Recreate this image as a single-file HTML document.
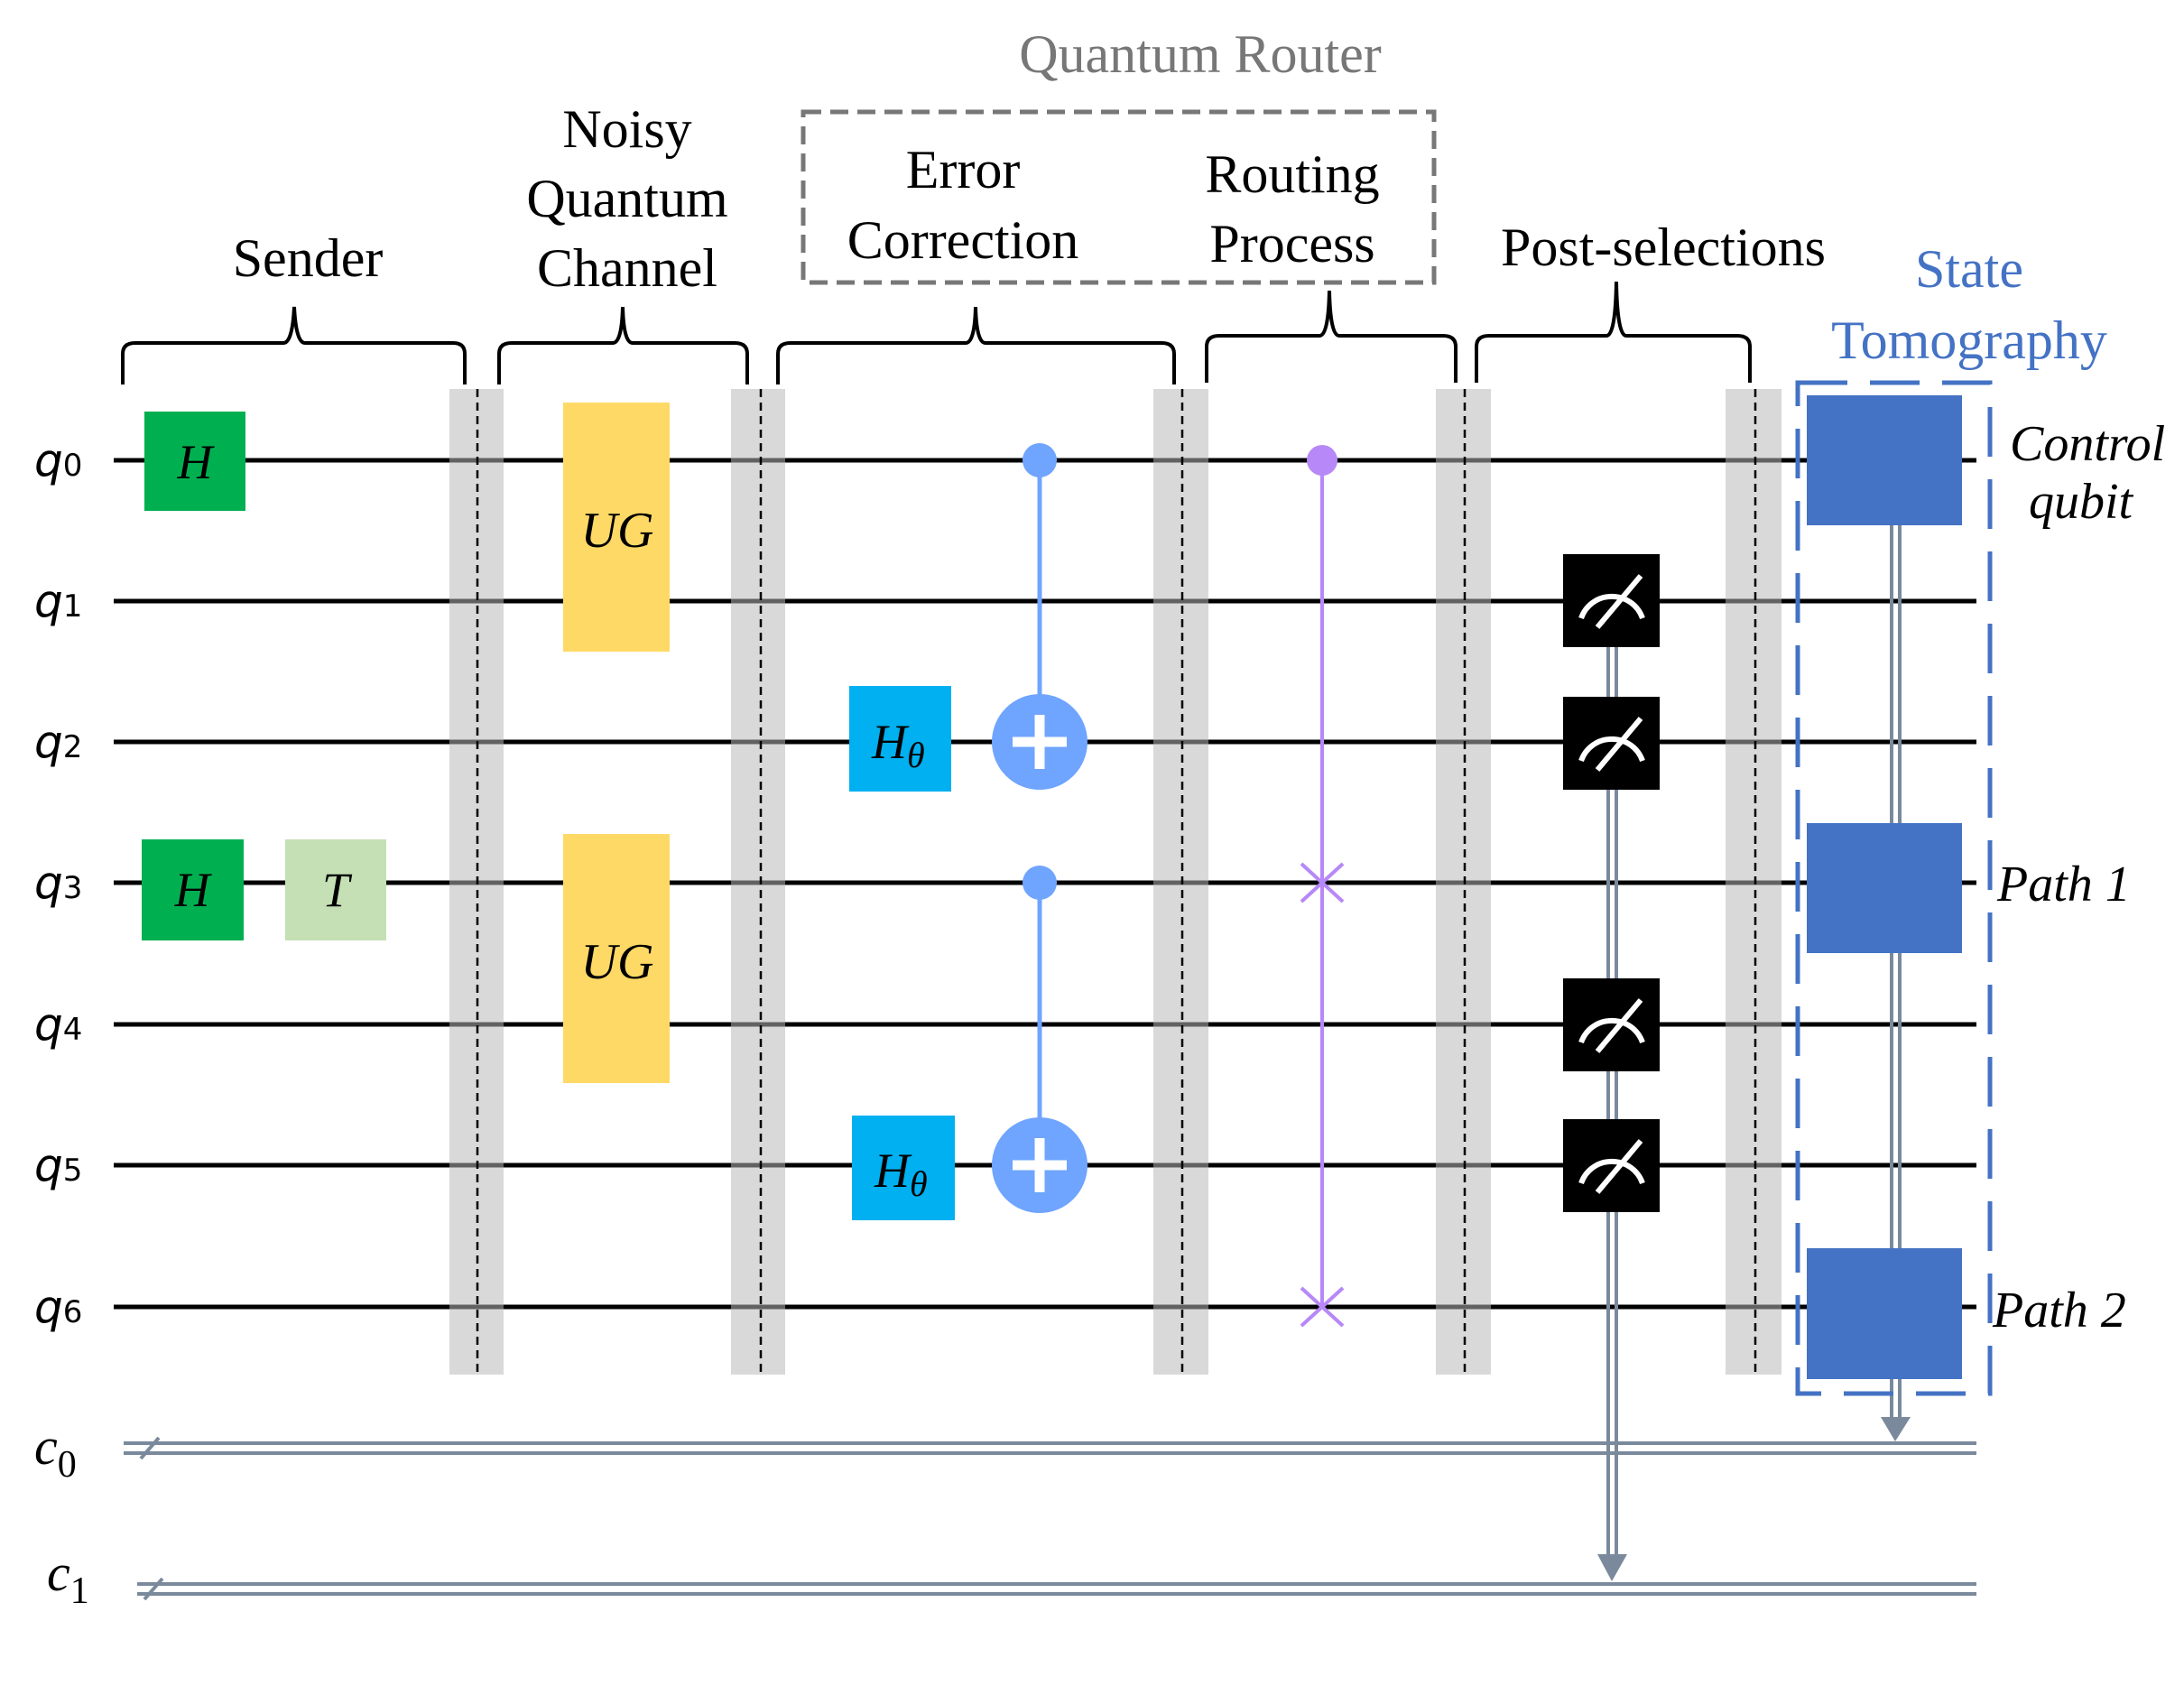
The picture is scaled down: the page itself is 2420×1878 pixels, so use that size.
<!DOCTYPE html>
<html><head><meta charset="utf-8"><style>html,body{margin:0;padding:0;background:#fff}svg{display:block}</style></head>
<body>
<svg width="2420" height="1878" viewBox="0 0 2420 1878" xmlns="http://www.w3.org/2000/svg">
<rect width="2420" height="1878" fill="#fff"/>
<g fill="#d9d9d9">
<rect x="498" y="431" width="60" height="1092"/>
<rect x="810" y="431" width="60" height="1092"/>
<rect x="1278" y="431" width="61" height="1092"/>
<rect x="1591" y="431" width="61" height="1092"/>
<rect x="1912" y="431" width="62" height="1092"/>
</g>
<g stroke="#000" stroke-width="5">
<line x1="126" y1="510" x2="2190" y2="510"/>
<line x1="126" y1="666" x2="2190" y2="666"/>
<line x1="126" y1="822" x2="2190" y2="822"/>
<line x1="126" y1="978" x2="2190" y2="978"/>
<line x1="126" y1="1135" x2="2190" y2="1135"/>
<line x1="126" y1="1291" x2="2190" y2="1291"/>
<line x1="126" y1="1448" x2="2190" y2="1448"/>
</g>
<g fill="#d9d9d9" opacity="0.45">
<rect x="498" y="431" width="60" height="1092"/>
<rect x="810" y="431" width="60" height="1092"/>
<rect x="1278" y="431" width="61" height="1092"/>
<rect x="1591" y="431" width="61" height="1092"/>
<rect x="1912" y="431" width="62" height="1092"/>
</g>
<g stroke="#000" stroke-width="2.5" stroke-dasharray="9,6">
<line x1="529" y1="431" x2="529" y2="1523"/>
<line x1="843" y1="431" x2="843" y2="1523"/>
<line x1="1310" y1="431" x2="1310" y2="1523"/>
<line x1="1623" y1="431" x2="1623" y2="1523"/>
<line x1="1945" y1="431" x2="1945" y2="1523"/>
</g>
<g stroke="#7a8a9c" stroke-width="4">
<line x1="137" y1="1599" x2="2190" y2="1599"/>
<line x1="137" y1="1610" x2="2190" y2="1610"/>
<line x1="152" y1="1755" x2="2190" y2="1755"/>
<line x1="152" y1="1766" x2="2190" y2="1766"/>
<line x1="156" y1="1616" x2="176" y2="1593"/>
<line x1="160" y1="1772" x2="180" y2="1749"/>
<line x1="1782" y1="717" x2="1782" y2="1725"/>
<line x1="1791" y1="717" x2="1791" y2="1725"/>
<line x1="2096" y1="582" x2="2096" y2="1572"/>
<line x1="2105" y1="582" x2="2105" y2="1572"/>
</g>
<polygon points="1770,1722 1803,1722 1786,1752" fill="#7a8a9c"/>
<polygon points="2084,1570 2117,1570 2100,1597" fill="#7a8a9c"/>
<rect x="160" y="456" width="112" height="110" fill="#00b050"/>
<rect x="157" y="930" width="113" height="112" fill="#00b050"/>
<rect x="316" y="930" width="112" height="112" fill="#c5e0b4"/>
<g font-family="Liberation Serif, serif" font-style="italic" font-size="54" text-anchor="middle" fill="#000">
<text x="216" y="530">H</text>
<text x="213" y="1004">H</text>
<text x="372" y="1004">T</text>
</g>
<rect x="624" y="446" width="118" height="276" fill="#ffd966"/>
<rect x="624" y="924" width="118" height="276" fill="#ffd966"/>
<g font-family="Liberation Serif, serif" font-style="italic" font-size="56" text-anchor="middle" fill="#000">
<text x="684" y="606">UG</text>
<text x="684" y="1084">UG</text>
</g>
<rect x="941" y="760" width="113" height="117" fill="#00b0f0"/>
<rect x="944" y="1236" width="114" height="116" fill="#00b0f0"/>
<g font-family="Liberation Serif, serif" font-style="italic" font-size="54" fill="#000">
<text x="966" y="840">H<tspan font-size="40" dy="10">θ</tspan></text>
<text x="969" y="1315">H<tspan font-size="40" dy="10">θ</tspan></text>
</g>
<g stroke="#6fa4ff" stroke-width="5"><line x1="1152" y1="510" x2="1152" y2="800"/><line x1="1152" y1="978" x2="1152" y2="1270"/></g>
<g fill="#6fa4ff">
<circle cx="1152" cy="510" r="19"/><circle cx="1152" cy="822" r="53"/>
<circle cx="1152" cy="978" r="19"/><circle cx="1152" cy="1291" r="53"/>
</g>
<g stroke="#fff" stroke-width="11">
<line x1="1122" y1="822" x2="1182" y2="822"/><line x1="1152" y1="792" x2="1152" y2="852"/>
<line x1="1122" y1="1291" x2="1182" y2="1291"/><line x1="1152" y1="1261" x2="1152" y2="1321"/>
</g>
<g stroke="#b788f7" stroke-width="4">
<line x1="1465" y1="510" x2="1465" y2="1448"/>
<line x1="1442" y1="957" x2="1488" y2="999"/><line x1="1488" y1="957" x2="1442" y2="999"/>
<line x1="1442" y1="1427" x2="1488" y2="1469"/><line x1="1488" y1="1427" x2="1442" y2="1469"/>
</g>
<circle cx="1465" cy="510" r="17" fill="#b788f7"/>
<g id="m">
<rect x="1732" y="614" width="107" height="103" fill="#000"/>
<path d="M1752 685 A36 36 0 0 1 1820 685" stroke="#fff" stroke-width="6" fill="none"/>
<line x1="1770" y1="695" x2="1818" y2="638" stroke="#fff" stroke-width="6"/>
</g>
<use href="#m" transform="translate(0,158)"/>
<use href="#m" transform="translate(0,470)"/>
<use href="#m" transform="translate(0,626)"/>
<rect x="2002" y="438" width="172" height="144" fill="#4472c4"/>
<rect x="2002" y="912" width="172" height="144" fill="#4472c4"/>
<rect x="2002" y="1383" width="172" height="145" fill="#4472c4"/>
<rect x="1992" y="424" width="213" height="1120" fill="none" stroke="#4472c4" stroke-width="5" stroke-dasharray="55,25"/>
<rect x="890" y="124" width="699" height="189" fill="none" stroke="#777" stroke-width="5" stroke-dasharray="20,10"/>
<g stroke="#000" stroke-width="4" fill="none">
<path d="M136 426 V392 Q136 380 150 380 H314 Q324 380 326 340 Q328 380 338 380 H502 Q515 380 515 392 V426"/>
<path d="M553 426 V392 Q553 380 567 380 H679 Q689 380 690 340 Q691 380 701 380 H814 Q828 380 828 392 V426"/>
<path d="M862 426 V392 Q862 380 876 380 H1070 Q1080 380 1081 340 Q1082 380 1092 380 H1287 Q1301 380 1301 392 V426"/>
<path d="M1337 424 V384 Q1337 372 1351 372 H1462 Q1472 372 1473 322 Q1474 372 1484 372 H1599 Q1613 372 1613 384 V424"/>
<path d="M1636 424 V384 Q1636 372 1650 372 H1780 Q1790 372 1791 312 Q1792 372 1802 372 H1925 Q1939 372 1939 384 V424"/>
</g>
<g font-family="Liberation Serif, serif" font-size="60" text-anchor="middle" fill="#000">
<text x="341" y="306">Sender</text>
<text x="695" y="163">Noisy</text>
<text x="695" y="240">Quantum</text>
<text x="695" y="317">Channel</text>
<text x="1067" y="208">Error</text>
<text x="1067" y="286">Correction</text>
<text x="1432" y="213">Routing</text>
<text x="1432" y="290">Process</text>
<text x="1843" y="294">Post-selections</text>
<text x="1330" y="80" fill="#777">Quantum Router</text>
<text x="2182" y="318" fill="#4472c4">State</text>
<text x="2182" y="397" fill="#4472c4">Tomography</text>
</g>
<g font-family="Liberation Serif, serif" font-style="italic" font-size="56" fill="#000">
<text x="2227" y="510">Control</text>
<text x="2248" y="574">qubit</text>
<text x="2213" y="998">Path 1</text>
<text x="2208" y="1470">Path 2</text>
</g>
<g font-family="DejaVu Sans, sans-serif" font-style="italic" font-size="50" fill="#000">
<text x="38" y="527">q<tspan font-size="34" font-style="normal">0</tspan></text>
<text x="38" y="683">q<tspan font-size="34" font-style="normal">1</tspan></text>
<text x="38" y="839">q<tspan font-size="34" font-style="normal">2</tspan></text>
<text x="38" y="995">q<tspan font-size="34" font-style="normal">3</tspan></text>
<text x="38" y="1152">q<tspan font-size="34" font-style="normal">4</tspan></text>
<text x="38" y="1308">q<tspan font-size="34" font-style="normal">5</tspan></text>
<text x="38" y="1465">q<tspan font-size="34" font-style="normal">6</tspan></text>
</g>
<g font-family="Liberation Serif, serif" font-style="italic" font-size="58" fill="#000">
<text x="38" y="1622">c<tspan font-style="normal" font-size="42" dy="14">0</tspan></text>
<text x="52" y="1762">c<tspan font-style="normal" font-size="42" dy="14">1</tspan></text>
</g>
</svg>
</body></html>
